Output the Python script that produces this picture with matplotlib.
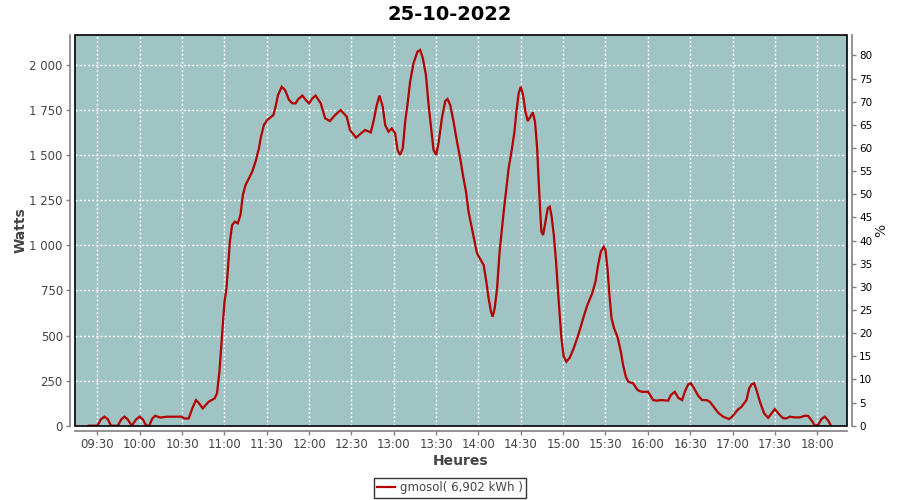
import matplotlib
matplotlib.use("Agg")
import matplotlib.pyplot as plt
from matplotlib.ticker import FuncFormatter, MultipleLocator, FixedLocator
from matplotlib.patches import Rectangle

title = "25-10-2022"
series_name = "gmosol( 6,902 kWh )"
start_label = "09:30"

# minutes after 09:30
minutes = [-6, 0, 2.5, 5, 7.5, 9.7, 14.5, 17, 19.2, 21.5, 24.4, 27.5, 30, 32.3, 34.6, 36.7, 39, 41,
           44.6, 49.3, 55, 59.5, 61.9, 64.7, 67.5, 69.9, 72, 74.7, 78.9, 83.2, 84.8, 86.5, 88.4, 90.1,
           91.5, 92.7, 93.9, 95.5, 97.4, 99.5, 101.4, 103.1, 105, 107.4, 109.7, 112.1, 114.5, 115.7,
           118, 120.4, 124.7, 126.3, 128, 130.6, 133, 135.8, 138.2, 140.5, 142.4, 145.3, 147.7, 150,
           152.4, 154.7, 158.3, 161.4, 164.8, 168.4, 172.4, 176.7, 179, 183.3, 187.3, 189.7, 193.7,
           195.6, 198, 199.9, 202.2, 203.9, 206.3, 208.6, 211, 212.7, 214.5, 216.4, 218.1, 219.7,
           221.6, 224, 226.8, 228.7, 230.6, 232.8, 234.7, 236.5, 238.2, 240.1, 241.9, 244.1, 246.5,
           248.1, 250, 252.4, 254.8, 257.1, 259, 261.2, 263, 265.4, 267.3, 269, 271.3, 273.7, 275.6,
           277.2, 278.9, 280.1, 281.5, 283.2, 285, 286.7, 287.9, 289.8, 291.4, 293.8, 295.5, 296.9,
           298.5, 300, 301.6, 303.3, 304.9, 306.8, 308.5, 310.1, 311.6, 312.7, 313.9, 314.6, 315.8,
           317.5, 319.1, 320.5, 321.7, 323.4, 325, 326.4, 327.6, 328.8, 330.4, 332.3, 334.7, 337.5,
           341.1, 344.2, 347, 350.6, 352.9, 354.8, 356.7, 358.8, 360, 361.4, 362.8, 364.3, 366.1,
           368.5, 370.9, 372.5, 374.4, 376.1, 379.6, 382.7, 385.5, 390.2, 393.8, 396.1, 399.7, 404.4,
           406.3, 409.1, 411.5, 414.3, 416.2, 418.6, 420.5, 422.8, 425.7, 428.5, 431.6, 433.9, 436.3,
           439.8, 443.4, 447.4, 449.8, 453.5, 456.4, 459.9, 461.8, 463.5, 465.3, 467, 469.4, 472.4,
           475.3, 477.6, 480, 482.8, 485.9, 488.3, 490.6, 494.2, 497.7, 501.2, 503.6, 506.7, 508.3,
           510.7, 513, 515.4, 517.8, 519.7]

watts = [0, 0, 35, 50, 35, 0, 0, 35, 50, 35, 0, 35, 50, 35, 0, 0, 40, 55,
         45, 50, 50, 50, 40, 40, 100, 142, 125, 96, 133, 152, 180, 300, 503, 688,
         761, 890, 1020, 1112, 1131, 1122, 1168, 1279, 1334, 1371, 1408, 1464, 1538, 1593,
         1667, 1695, 1722, 1769, 1833, 1879, 1861, 1806, 1787, 1787, 1811, 1830, 1806, 1787,
         1815, 1830, 1787, 1704, 1689, 1722, 1750, 1713, 1639, 1597, 1624, 1639, 1626,
         1685, 1778, 1830, 1769, 1667, 1630, 1648, 1621, 1528, 1501, 1538, 1685, 1778,
         1907, 2009, 2074, 2083, 2037, 1944, 1778, 1648, 1528, 1501, 1575, 1704, 1800,
         1811, 1778, 1685, 1575, 1482, 1390, 1297, 1186, 1094, 1020, 955, 924, 891, 798,
         706, 632, 604, 650, 761, 965, 1094, 1186, 1316, 1427, 1538, 1630, 1741,
         1843, 1879, 1833, 1741, 1689, 1713, 1737, 1685, 1538, 1353, 1168, 1076, 1057,
         1131, 1205, 1214, 1168, 1057, 909, 743, 614, 484, 383, 355, 377, 429,
         512, 595, 665, 734, 798, 891, 965, 992, 974, 872, 724, 595, 540,
         493, 410, 336, 272, 244, 235, 198, 188, 188, 142, 139, 142, 139,
         170, 188, 155, 142, 188, 229, 235, 207, 166, 142, 142, 133, 109,
         72, 50, 37, 50, 87, 105, 142, 207, 229, 235, 198, 133, 68,
         44, 68, 92, 65, 41, 41, 50, 46, 46, 55, 54, 22, 0,
         4, 37, 50, 28, 0]

x_tick_labels = ["09:30", "10:00", "10:30", "11:00", "11:30", "12:00", "12:30", "13:00", "13:30",
                 "14:00", "14:30", "15:00", "15:30", "16:00", "16:30", "17:00", "17:30", "18:00"]
pct_ticks = [0, 5, 10, 15, 20, 25, 30, 35, 40, 45, 50, 55, 60, 65, 70, 75, 80]


def to_min(s):
    h, m = s.split(":")
    return int(h) * 60 + int(m)


base = to_min(start_label)
xs = [base + m for m in minutes]
xticks = [to_min(s) for s in x_tick_labels]

fig = plt.figure(figsize=(9, 5), dpi=100)
ax = fig.add_axes([75.3 / 900, 1 - 425.7 / 500, (846.7 - 75.3) / 900, (425.7 - 35) / 500])
ax.set_facecolor("#9fc4c3")

ax.plot(xs, watts, color="#b40000", lw=1.6, solid_joinstyle="miter", zorder=3)

ax.set_xlim(554.4, 1100.9)
ax.set_ylim(0, 2166)
ax.xaxis.set_major_locator(FixedLocator(xticks))
ax.set_xticklabels(x_tick_labels)
ax.yaxis.set_major_locator(MultipleLocator(250))
ax.yaxis.set_major_formatter(FuncFormatter(lambda v, p: f"{int(v):,}".replace(",", " ")))

ax.grid(True, color="white", linestyle=(0, (1.5, 1.5)), linewidth=1.0, zorder=1)
ax.set_axisbelow(True)

gray = "#808080"
for side in ["left", "bottom"]:
    ax.spines[side].set_position(("outward", 4))
    ax.spines[side].set_color(gray)
    ax.spines[side].set_linewidth(1.2)
ax.spines["top"].set_visible(False)
ax.spines["right"].set_visible(False)

ax.tick_params(axis="both", colors=gray, labelcolor="#444444", labelsize=8.5,
               length=3, width=1, pad=2)

ax.set_xlabel("Heures", fontsize=10, fontweight="bold", color="#444444", labelpad=2)
ax.set_ylabel("Watts", fontsize=10, fontweight="bold", color="#444444", labelpad=1)

ax2 = ax.twinx()
ax2.set_ylim(0, 84.4)
ax2.yaxis.set_major_locator(FixedLocator(pct_ticks))
for side in ["left", "bottom", "top"]:
    ax2.spines[side].set_visible(False)
ax2.spines["right"].set_position(("outward", 4))
ax2.spines["right"].set_color(gray)
ax2.spines["right"].set_linewidth(1.2)
ax2.tick_params(axis="y", colors=gray, labelcolor="black", labelsize=7.5, length=3, width=1, pad=2)
ax2.set_ylabel("%", fontsize=10, color="#222222", labelpad=1)

frame = Rectangle((0, 0), 1, 1, transform=ax.transAxes, fill=False, edgecolor="black",
                  lw=1.2, clip_on=False, zorder=10)
ax.add_patch(frame)

fig.text(0.5, 1 - 14 / 500, title, ha="center", va="center", fontsize=14,
         fontweight="bold", color="black")

leg = fig.legend([ax.lines[0]], [series_name], loc="center", bbox_to_anchor=(0.5, 1 - 488 / 500),
                 frameon=True, fancybox=False, edgecolor="black", fontsize=8.5,
                 handlelength=1.5, handletextpad=0.4, borderpad=0.3, borderaxespad=0)
leg.get_frame().set_linewidth(1.0)
for t in leg.get_texts():
    t.set_color("#444444")

fig.savefig("out.png", dpi=100)
